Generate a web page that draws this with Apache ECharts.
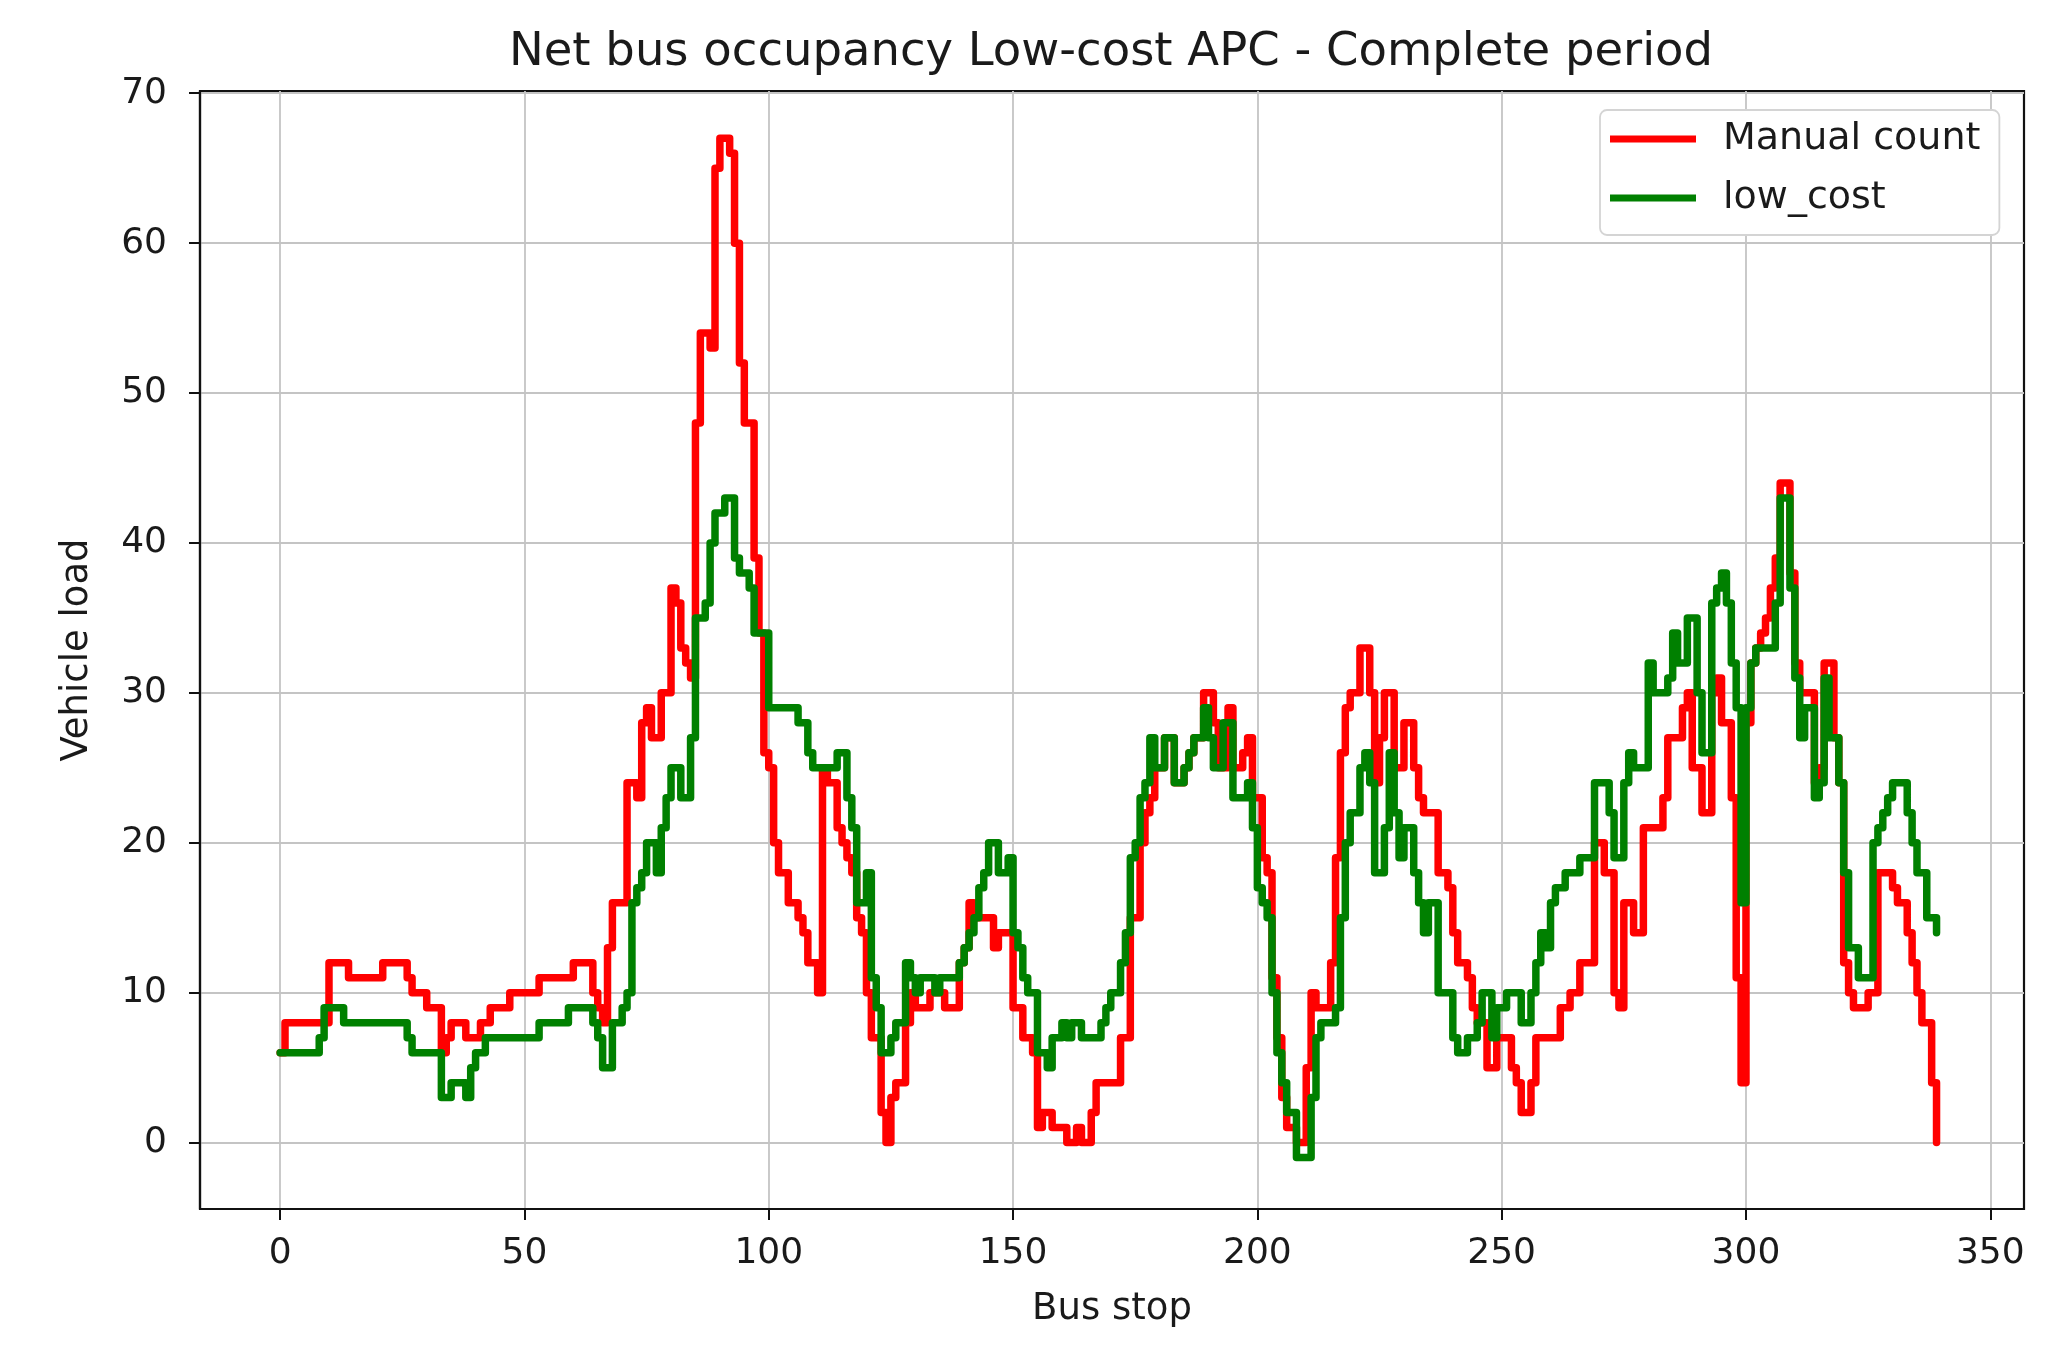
<!DOCTYPE html>
<html>
<head>
<meta charset="utf-8">
<script src="https://cdn.jsdelivr.net/npm/echarts@6/dist/echarts.min.js"></script>
<style>
html,body{margin:0;padding:0;background:#ffffff;}
#chart{width:2063px;height:1362px;}
</style>
</head>
<body>
<div id="chart"></div>
<script>
// Vehicle load per bus stop (index = bus stop 0..339)
const manualCount = [
  6,8,8,8,8,8,8,8,8,8,
  12,12,12,12,11,11,11,11,11,11,
  11,12,12,12,12,12,11,10,10,10,
  9,9,9,6,7,8,8,8,7,7,
  7,8,8,9,9,9,9,10,10,10,
  10,10,10,11,11,11,11,11,11,11,
  12,12,12,12,10,9,8,13,16,16,
  16,24,24,23,28,29,27,27,30,30,
  37,36,33,32,31,48,54,54,53,65,
  67,67,66,60,52,48,48,39,34,26,
  25,20,18,18,16,16,15,14,12,12,
  10,25,24,24,21,20,19,18,15,14,
  10,7,7,2,0,3,4,4,8,10,
  9,9,9,10,10,10,9,9,9,12,
  13,16,15,15,15,15,13,14,14,14,
  9,9,7,7,6,1,2,2,1,1,
  1,0,0,1,0,0,2,4,4,4,
  4,4,7,7,15,15,20,22,23,25,
  25,27,27,24,24,25,26,27,27,30,
  30,28,25,25,29,25,25,26,27,23,
  23,19,18,11,7,3,1,1,0,0,
  5,10,9,9,9,12,19,26,29,30,
  30,33,33,30,24,27,30,30,25,25,
  28,28,25,23,22,22,22,18,18,17,
  14,12,12,11,9,8,8,5,5,7,
  7,7,5,4,2,2,4,7,7,7,
  7,7,9,9,10,10,12,12,12,20,
  20,18,18,10,9,16,16,14,14,21,
  21,21,21,23,27,27,27,29,30,25,
  25,22,22,30,31,28,28,23,11,4,
  28,32,33,34,35,37,39,44,44,38,
  32,30,30,30,24,25,32,32,27,24,
  12,10,9,9,9,10,10,18,18,18,
  17,16,16,14,12,10,8,8,4,0
];
const lowCost = [
  6,6,6,6,6,6,6,6,7,9,
  9,9,9,8,8,8,8,8,8,8,
  8,8,8,8,8,8,7,6,6,6,
  6,6,6,3,3,4,4,4,3,5,
  6,6,7,7,7,7,7,7,7,7,
  7,7,7,8,8,8,8,8,8,9,
  9,9,9,9,8,7,5,5,8,8,
  9,10,16,17,18,20,20,18,21,23,
  25,25,23,23,27,35,35,36,40,42,
  42,43,43,39,38,38,37,34,34,34,
  29,29,29,29,29,29,28,28,26,25,
  25,25,25,25,26,26,23,21,16,16,
  18,11,9,6,6,7,8,8,12,11,
  10,11,11,11,10,11,11,11,11,12,
  13,14,15,17,18,20,20,18,18,19,
  14,13,11,10,10,6,6,5,7,7,
  8,7,8,8,7,7,7,7,8,9,
  10,10,12,14,19,20,23,24,27,25,
  25,27,27,24,24,25,26,27,27,29,
  27,25,25,28,28,23,23,23,24,21,
  17,16,15,10,6,4,2,2,-1,-1,
  -1,3,7,8,8,8,9,15,20,22,
  22,25,26,24,18,18,21,26,22,19,
  21,21,18,16,14,16,16,10,10,10,
  7,6,6,7,7,8,10,10,7,9,
  9,10,10,10,8,8,10,12,14,13,
  16,17,17,18,18,18,19,19,19,24,
  24,24,22,19,19,24,26,25,25,25,
  32,30,30,30,31,34,32,32,35,35,
  30,26,26,36,37,38,36,32,29,16,
  29,32,33,33,33,33,36,43,43,37,
  31,27,29,29,23,24,31,27,27,24,
  18,13,13,11,11,11,20,21,22,23,
  24,24,24,22,20,18,18,15,15,14
];
const xTicks = [0, 50, 100, 150, 200, 250, 300, 350];
const yTicks = [0, 10, 20, 30, 40, 50, 60, 70];
const seriesNames = ['Manual count', 'low_cost'];

const FONT = '"DejaVu Sans", "Liberation Sans", sans-serif';
const toPairs = arr => arr.map((v, i) => [i, v]);

const chart = echarts.init(document.getElementById('chart'), null, {renderer: 'canvas'});
chart.setOption({
  animation: false,
  backgroundColor: '#ffffff',
  title: {
    text: 'Net bus occupancy Low-cost APC - Complete period',
    left: 1111,
    top: 29,
    textAlign: 'center',
    padding: 0,
    textStyle: {fontFamily: FONT, fontSize: 46.5, fontWeight: 'normal', color: '#1a1a1a'}
  },
  grid: {
    left: 200, right: 39, top: 91, bottom: 153,
    show: true, borderColor: '#111', borderWidth: 2.2, backgroundColor: 'transparent',
    containLabel: false
  },
  legend: {
    data: seriesNames,
    orient: 'vertical',
    left: 1600, top: 110,
    icon: 'rect',
    itemWidth: 86, itemHeight: 7,
    itemGap: 21,
    padding: [10, 19, 18, 10],
    backgroundColor: '#ffffff',
    borderColor: '#d4d4d4', borderWidth: 1.8, borderRadius: 7,
    textStyle: {fontFamily: FONT, fontSize: 38, color: '#1a1a1a', lineHeight: 38, padding: [0, 0, 0, 22]}
  },
  xAxis: {
    type: 'value',
    min: -16.4, max: 356.9,
    name: 'Bus stop', nameLocation: 'middle', nameGap: 82,
    nameTextStyle: {fontFamily: FONT, fontSize: 37, color: '#1a1a1a'},
    axisLine: {show: true, onZero: false, lineStyle: {color: '#111', width: 2.2}},
    axisTick: {show: true, customValues: xTicks, length: 11, lineStyle: {color: '#111', width: 2}},
    axisLabel: {customValues: xTicks, margin: 27, fontFamily: FONT, fontSize: 36, color: '#1a1a1a'},
    splitLine: {show: true, lineStyle: {color: '#c4c4c4', width: 1.8}}
  },
  yAxis: {
    type: 'value',
    min: -4.43, max: 70.15,
    name: 'Vehicle load', nameLocation: 'middle', nameGap: 104, nameRotate: 90,
    nameTextStyle: {fontFamily: FONT, fontSize: 37, color: '#1a1a1a'},
    axisLine: {show: true, onZero: false, lineStyle: {color: '#111', width: 2.2}},
    axisTick: {show: true, customValues: yTicks, length: 11, lineStyle: {color: '#111', width: 2}},
    axisLabel: {customValues: yTicks, margin: 33, fontFamily: FONT, fontSize: 36, color: '#1a1a1a'},
    splitLine: {show: true, lineStyle: {color: '#c4c4c4', width: 1.8}}
  },
  series: [
    {
      name: seriesNames[0], type: 'line', step: 'end',
      data: toPairs(manualCount),
      symbol: 'none', showSymbol: false,
      color: '#ff0000',
      lineStyle: {color: '#ff0000', width: 7.5, cap: 'round', join: 'round'},
      z: 2
    },
    {
      name: seriesNames[1], type: 'line', step: 'end',
      data: toPairs(lowCost),
      symbol: 'none', showSymbol: false,
      color: '#008000',
      lineStyle: {color: '#008000', width: 7.5, cap: 'round', join: 'round'},
      z: 3
    }
  ]
});
</script>
</body>
</html>
